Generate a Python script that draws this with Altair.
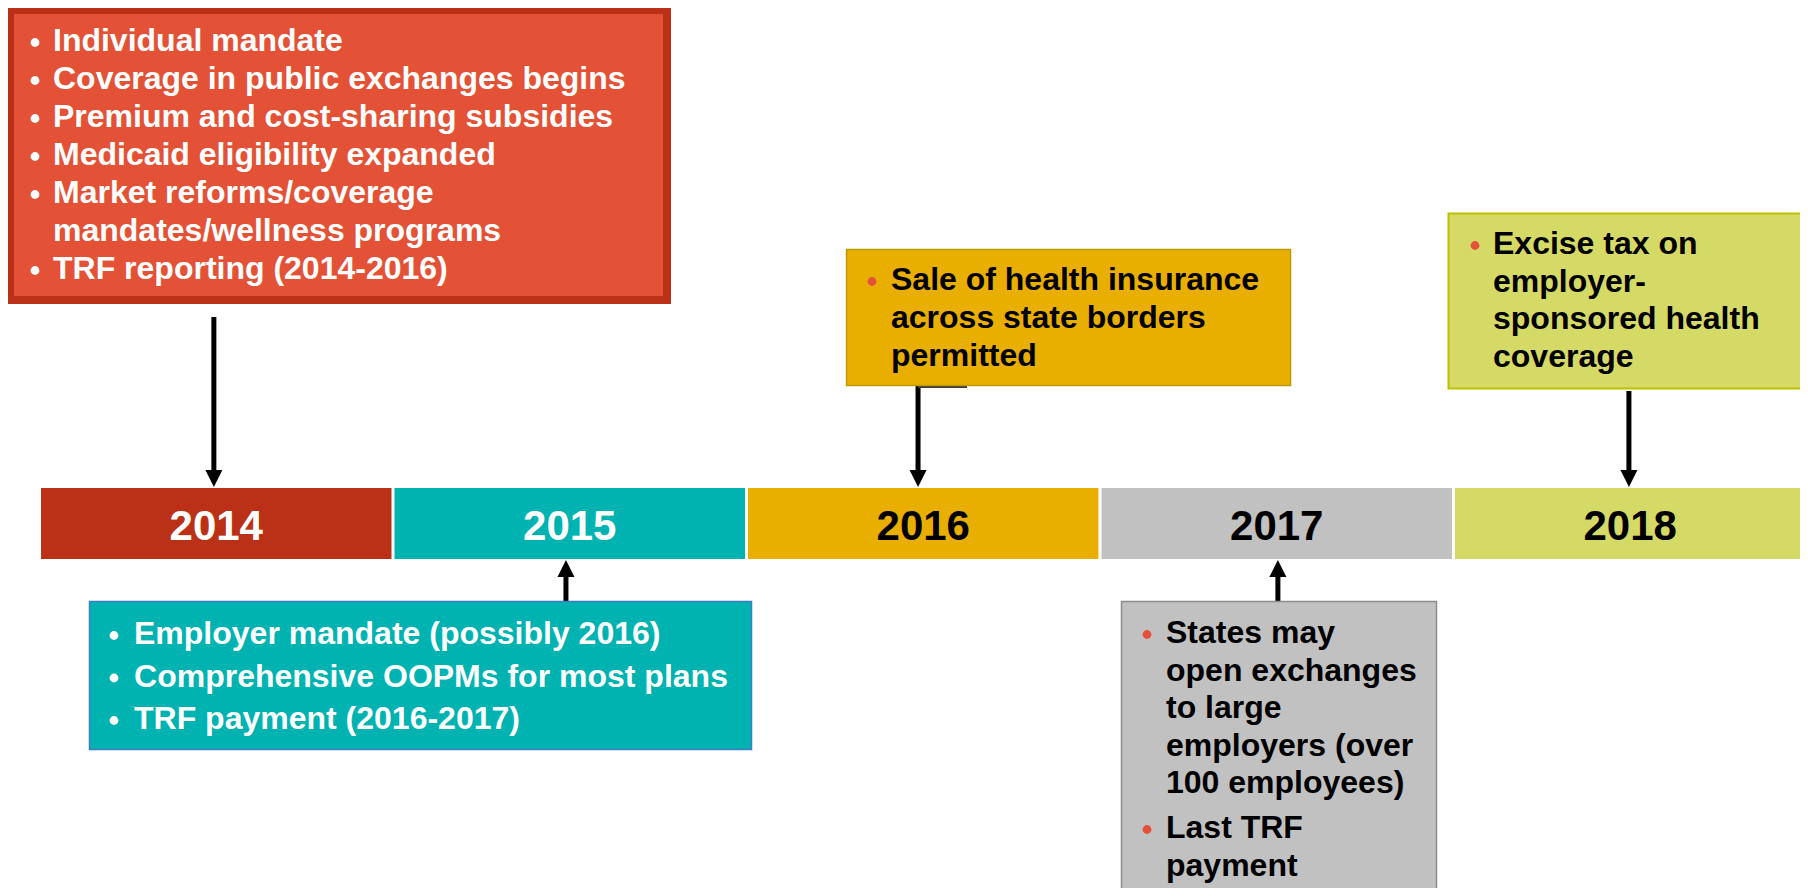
import altair as alt
import pandas as pd

# ---------------- data ----------------
years = [2014, 2015, 2016, 2017, 2018]
year_labels = ["2014", "2015", "2016", "2017", "2018"]

events_2014 = [
    ["Individual mandate"],
    ["Coverage in public exchanges begins"],
    ["Premium and cost-sharing subsidies"],
    ["Medicaid eligibility expanded"],
    ["Market reforms/coverage", "mandates/wellness programs"],
    ["TRF reporting (2014-2016)"],
]
events_2015 = [
    ["Employer mandate (possibly 2016)"],
    ["Comprehensive OOPMs for most plans"],
    ["TRF payment (2016-2017)"],
]
events_2016 = [
    ["Sale of health insurance", "across state borders", "permitted"],
]
events_2017 = [
    ["States may", "open exchanges", "to large", "employers (over", "100 employees)"],
    ["Last TRF", "payment"],
]
events_2018 = [
    ["Excise tax on", "employer-", "sponsored health", "coverage"],
]
events = dict(zip(years, [events_2014, events_2015, events_2016, events_2017, events_2018]))

# ---------------- styles ----------------
seg_fill = {2014: "#BA3118", 2015: "#00B3B0", 2016: "#E9AF00", 2017: "#C1C1C1", 2018: "#D5D966"}
box_fill = {2014: "#E35236", 2015: "#00B3B0", 2016: "#E9AF00", 2017: "#C1C1C1", 2018: "#D5D966"}
box_stroke = {2014: "#BA3118", 2015: "#3C7DC4", 2016: "#BE9A00", 2017: "#8C8C8C", 2018: "#BCC200"}
text_col = {2014: "white", 2015: "white", 2016: "black", 2017: "black", 2018: "black"}
bullet_col = {2014: "white", 2015: "white", 2016: "#E4513A", 2017: "#E4513A", 2018: "#E4513A"}
FONT = "Liberation Sans"

# ---------------- layout (x in year units, y in layout units) ----------------
X_DOMAIN = [2013.4066, 2018.4760]
Y_DOMAIN = [8, 888]
BAR_TOP, BAR_BOTTOM = 488, 559
SEG_GAP = 0.0085
layout = {
    2014: dict(x=2013.4123, x2=2015.2709, y=10, y2=300, sw=8, tx=2013.5339, bx=2013.483,
               base=51, step=38, gap=0, ax=2013.989, a0=317, dir="down"),
    2015: dict(x=2013.6372, x2=2015.5099, y=601.5, y2=749.5, sw=1.5, tx=2013.7631, bx=2013.7065,
               base=644, step=42.5, gap=0, ax=2014.985, a0=601, dir="up"),
    2016: dict(x=2015.7787, x2=2017.0347, y=249.5, y2=385.5, sw=1.5, tx=2015.9045, bx=2015.8508,
               base=290, step=38, gap=0, ax=2015.981, a0=386, dir="down"),
    2017: dict(x=2016.5566, x2=2017.4477, y=601.5, y2=905, sw=1.5, tx=2016.6825, bx=2016.6287,
               base=643, step=37.5, gap=7.5, ax=2016.999, a0=601, dir="up"),
    2018: dict(x=2017.4816, x2=2018.7, y=213.5, y2=388.5, sw=2, tx=2017.6075, bx=2017.5566,
               base=254, step=37.7, gap=0, ax=2017.992, a0=391, dir="down"),
}

# ---------------- tables ----------------
seg_df = pd.DataFrame({
    "x": [y - 0.5 for y in years],
    "x2": [y + 0.5 - SEG_GAP for y in years],
    "xc": [y - SEG_GAP / 2 for y in years],
    "y": BAR_TOP, "y2": BAR_BOTTOM, "yt": 540,
    "label": year_labels,
    "fill": [seg_fill[y] for y in years],
    "tcol": [text_col[y] for y in years],
})

box_df = pd.DataFrame([
    dict(x=layout[y]["x"], x2=layout[y]["x2"], y=layout[y]["y"], y2=layout[y]["y2"],
         sw=layout[y]["sw"], fill=box_fill[y], stroke=box_stroke[y])
    for y in years
])

line_rows, bullet_rows = [], []
for yr in years:
    L = layout[yr]
    cur = L["base"]
    for item in events[yr]:
        bullet_rows.append(dict(x=L["bx"], y=cur - 8.5, color=bullet_col[yr]))
        for ln in item:
            line_rows.append(dict(x=L["tx"], y=cur, text=ln, color=text_col[yr]))
            cur += L["step"]
        cur += L["gap"]
line_df = pd.DataFrame(line_rows)
bullet_df = pd.DataFrame(bullet_rows)

shaft_rows, head_down, head_up = [], [], []
for yr in years:
    L = layout[yr]
    if L["dir"] == "down":
        shaft_rows.append(dict(x=L["ax"], y=L["a0"], y2=479))
        head_down.append(dict(x=L["ax"], y=478.5))
    else:
        shaft_rows.append(dict(x=L["ax"], y=567, y2=L["a0"]))
        head_up.append(dict(x=L["ax"], y=568.5))
shaft_df = pd.DataFrame(shaft_rows)
down_df = pd.DataFrame(head_down)
up_df = pd.DataFrame(head_up)
stray_df = pd.DataFrame([dict(x=2015.981, x2=2016.1195, y=387)])

# ---------------- chart ----------------
xs = alt.Scale(domain=X_DOMAIN, nice=False, zero=False)
ys = alt.Scale(domain=Y_DOMAIN, nice=False, zero=False, reverse=True)
X = lambda f: alt.X(f, type="quantitative", scale=xs, axis=None)
Y = lambda f: alt.Y(f, type="quantitative", scale=ys, axis=None)

segments = alt.Chart(seg_df).mark_rect(clip=True).encode(
    x=X("x"), x2="x2", y=Y("y"), y2="y2",
    fill=alt.Fill("fill:N", scale=None))
seg_text = alt.Chart(seg_df).mark_text(font=FONT, fontWeight="bold", fontSize=42,
                                       align="center", baseline="alphabetic").encode(
    x=X("xc"), y=Y("yt"), text="label:N", color=alt.Color("tcol:N", scale=None))

boxes = alt.Chart(box_df).mark_rect(clip=True).encode(
    x=X("x"), x2="x2", y=Y("y"), y2="y2",
    fill=alt.Fill("fill:N", scale=None),
    stroke=alt.Stroke("stroke:N", scale=None),
    strokeWidth=alt.StrokeWidth("sw:Q", scale=None))

texts = alt.Chart(line_df).mark_text(font=FONT, fontWeight="bold", fontSize=32,
                                     align="left", baseline="alphabetic").encode(
    x=X("x"), y=Y("y"), text="text:N", color=alt.Color("color:N", scale=None))

bullets = alt.Chart(bullet_df).mark_circle(size=78, opacity=1).encode(
    x=X("x"), y=Y("y"), color=alt.Color("color:N", scale=None))

shafts = alt.Chart(shaft_df).mark_rule(strokeWidth=5, color="black").encode(
    x=X("x"), y=Y("y"), y2="y2")
heads_d = alt.Chart(down_df).mark_point(shape="M-1,-1L1,-1L0,1Z", size=289, filled=True,
                                        opacity=1, color="black", strokeWidth=0).encode(
    x=X("x"), y=Y("y"))
heads_u = alt.Chart(up_df).mark_point(shape="M-1,1L1,1L0,-1Z", size=289, filled=True,
                                      opacity=1, color="black", strokeWidth=0).encode(
    x=X("x"), y=Y("y"))
stray = alt.Chart(stray_df).mark_rule(strokeWidth=2, color="#3A3A3A").encode(
    x=X("x"), x2="x2", y=Y("y"))

chart = alt.layer(
    segments, seg_text, shafts, heads_d, heads_u, stray, boxes, bullets, texts
).properties(
    width=1792, height=880, padding=0,
    autosize=alt.AutoSizeParams(type="fit", contains="padding"),
    background="white",
).configure_view(stroke=None)

chart.save("out.html", embed_options={"renderer": "svg", "actions": False})
